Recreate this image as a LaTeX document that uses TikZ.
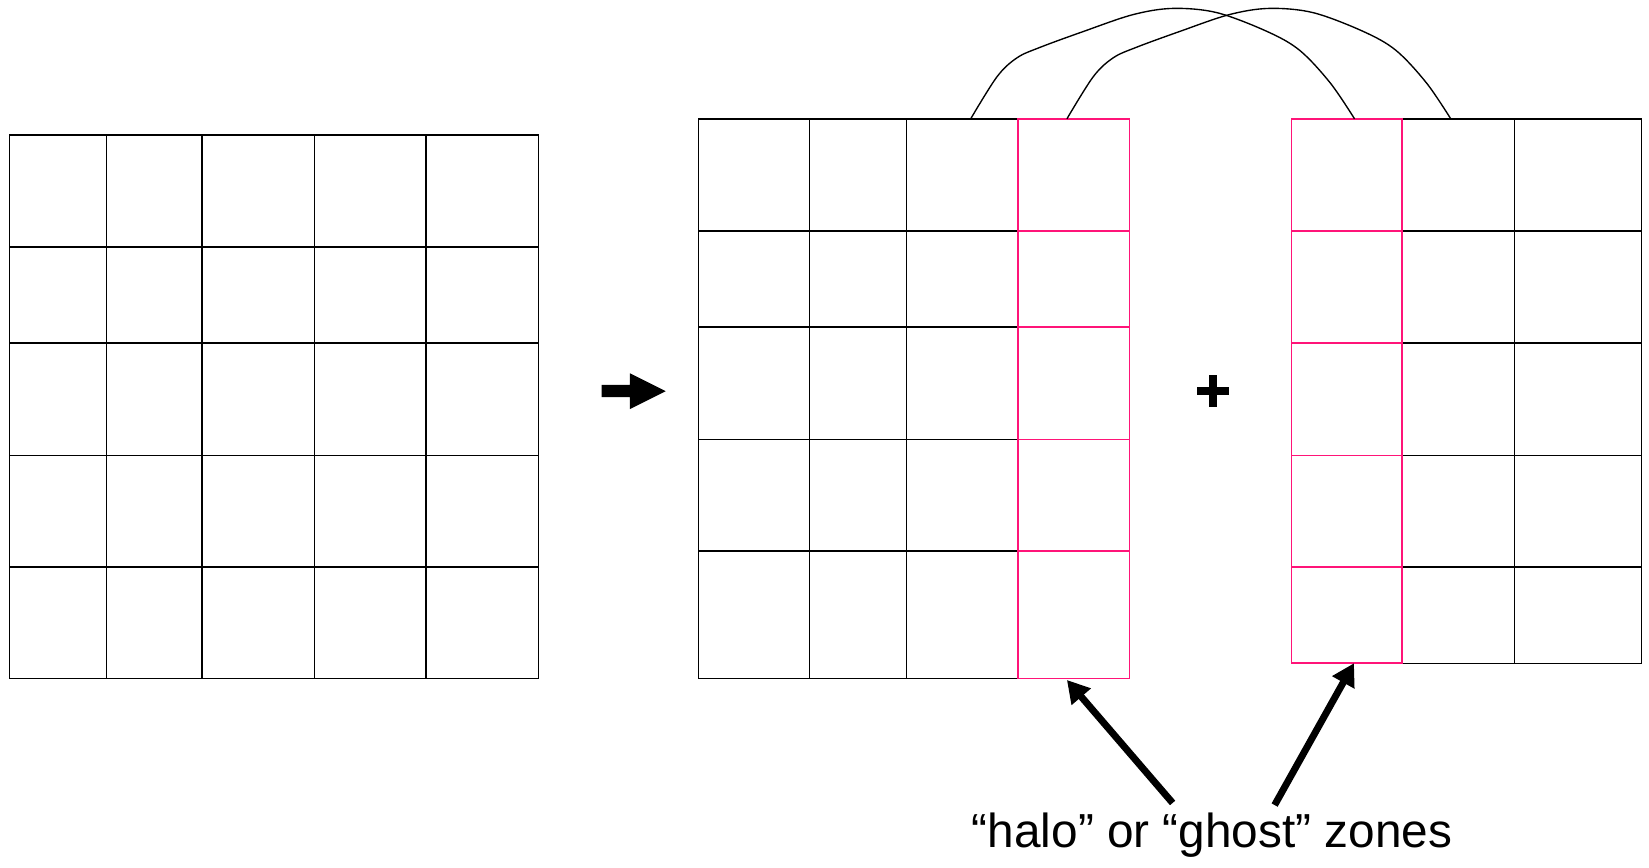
\documentclass[tikz,border=0pt]{standalone}
\usetikzlibrary{arrows.meta}
\usepackage{fontspec}
\setmainfont{Liberation Sans}
\definecolor{halo}{RGB}{255,20,120}
\begin{document}
\begin{tikzpicture}[x=0.5pt,y=-0.5pt,
  gridline/.style={line width=0.65pt, black, line cap=rect},
  haloline/.style={line width=0.7pt, halo, line cap=rect},
  link/.style={line width=0.65pt, black},
  pointer/.style={line width=3.3pt, -{Triangle[length=10.5pt,width=11.5pt]}}]
\useasboundingbox (0,0) rectangle (1568,824.5);
% left grid
\foreach \x in {9,101,192,299,405,512} \draw[gridline] (\x,128.2) -- (\x,645.3);
\foreach \y in {128.2,235,326.3,433,539,645.3} \draw[gridline] (9,\y) -- (512,\y);
% middle grid
\foreach \x in {664,770,862} \draw[gridline] (\x,113) -- (\x,645.3);
\foreach \y in {113,219.7,311,417.8,524,645.3} \draw[gridline] (664,\y) -- (968,\y);
\foreach \x in {968,1074} \draw[haloline] (\x,113) -- (\x,645.3);
\foreach \y in {113,219.7,311,417.8,524,645.3} \draw[haloline] (968,\y) -- (1074,\y);
% right grid
\foreach \x in {1440,1561} \draw[gridline] (\x,113) -- (\x,630.6);
\foreach \y in {113,219.7,326.3,433,539,630.6} \draw[gridline] (1333,\y) -- (1561,\y);
\foreach \x in {1228,1333} \draw[haloline] (\x,113) -- (\x,630.6);
\foreach \y in {113,219.7,326.3,433,539,630.6} \draw[haloline] (1228,\y) -- (1333,\y);
% block arrow and plus
\fill (572,366) -- (599,366) -- (599,355) -- (633,372) -- (599,389) -- (599,377.5) -- (572,377.5) -- cycle;
\fill (1138,368) rectangle (1169,375.6);
\fill (1150,356.6) rectangle (1157,387);
% links
\coordinate (a1) at (923,113);
\coordinate (a2) at (1288,113);
\coordinate (b1) at (1014.5,113);
\coordinate (b2) at (1379,113);
\foreach \s in {a1,b1}
  \draw[link, shift={(\s)}] plot[smooth, tension=0.55] coordinates
    {(0,0) (25,-40) (44,-58) (66,-68) (107,-83) (154,-99) (192,-105) (234,-101) (282,-83) (313,-65) (342,-34) (365,0)};
% label and pointers
\node[anchor=base, inner sep=0pt, font=\fontsize{22.7}{27}\selectfont] (lbl) at (1152.5,806) {“halo” or “ghost” zones};
\coordinate (t1) at (1115,763.5);
\coordinate (h1) at (1014.5,646.6);
\coordinate (t2) at (1212,765.5);
\coordinate (h2) at (1287.5,630.6);
\draw[pointer] (t1) -- (h1);
\draw[pointer] (t2) -- (h2);
\end{tikzpicture}
\end{document}
